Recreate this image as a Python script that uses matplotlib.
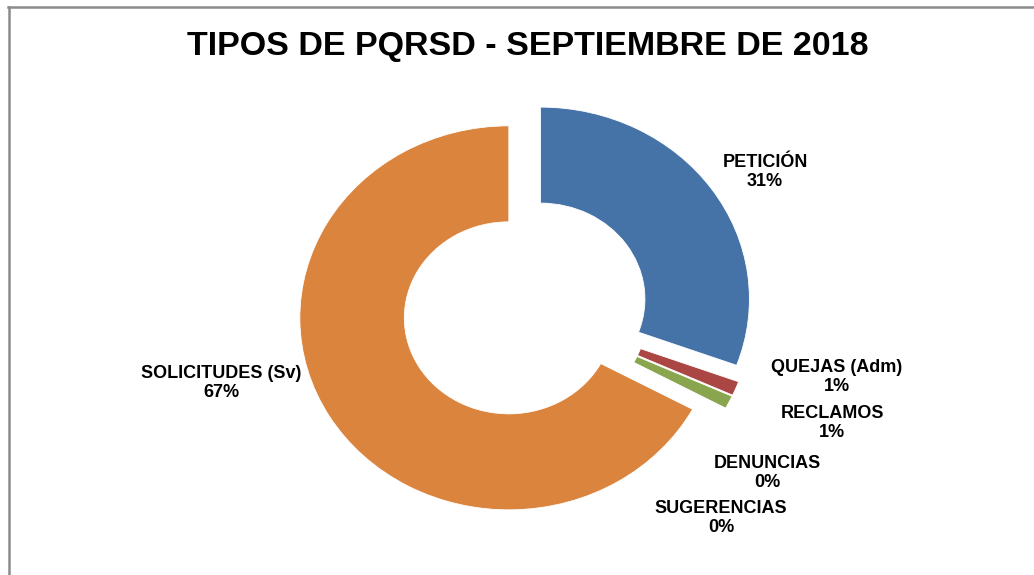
import matplotlib.pyplot as plt
from matplotlib.lines import Line2D

# data (shares, labels show the rounded percent)
tipos = ['PETICIÓN', 'QUEJAS (Adm)', 'RECLAMOS', 'DENUNCIAS', 'SUGERENCIAS', 'SOLICITUDES (Sv)']
valores = [30.6, 1.2, 1.1, 0.0, 0.0, 67.1]
colores = ['#4572A7', '#AA4643', '#89A54E', '#71588F', '#4198AF', '#DB843D']

# label centres in figure pixels (x, y from top)
pos_etiquetas = [(765, 172), (837, 377), (832, 423), (767, 473), (721, 518), (221, 383)]

W, H = 1034, 575
plt.rcParams['font.family'] = ['Liberation Sans', 'DejaVu Sans']

fig = plt.figure(figsize=(W / 100, H / 100), dpi=100)

# donut centre at (525, 309) px, radius 192 px tall, 209 px wide (picture is stretched)
cx, cy, ry, rx = 525, 309, 192, 209
ax = fig.add_axes([(cx - 1.25 * rx) / W, (H - cy - 1.25 * ry) / H, 2.5 * rx / W, 2.5 * ry / H])

ax.pie(valores, colors=colores, startangle=90, counterclock=False,
       explode=[0.09] * len(valores),
       wedgeprops=dict(width=0.5, edgecolor='white', linewidth=0.6))
ax.set_aspect('auto')
ax.set_xlim(-1.25, 1.25)
ax.set_ylim(-1.25, 1.25)
ax.axis('off')

total = sum(valores)
for nombre, v, (x, y) in zip(tipos, valores, pos_etiquetas):
    fig.text(x / W, 1 - y / H, f'{nombre}\n{round(v / total * 100):.0f}%',
             ha='center', va='center', fontsize=13, fontweight='bold',
             linespacing=1.2, color='black')

fig.text(528 / W, 1 - 46 / H, 'TIPOS DE PQRSD - SEPTIEMBRE DE 2018',
         ha='center', va='center', fontsize=24.5, fontweight='bold')

# grey frame (top and left edges visible)
fig.add_artist(Line2D([8 / W, 1], [1 - 7 / H, 1 - 7 / H], color='#8c8c8c', lw=1.8))
fig.add_artist(Line2D([9 / W, 9 / W], [0, 1 - 7 / H], color='#8c8c8c', lw=1.8))

fig.savefig('out.png', dpi=100)
